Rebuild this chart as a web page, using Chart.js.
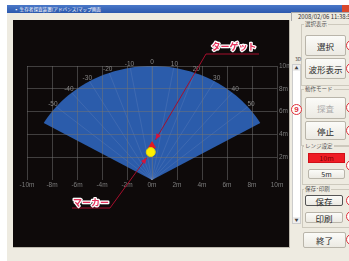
<!DOCTYPE html>
<html><head><meta charset="utf-8">
<script src="https://cdn.jsdelivr.net/npm/chart.js@4/dist/chart.umd.min.js"></script>
<style>
html,body{margin:0;padding:0;background:#fff;width:349px;height:261px;overflow:hidden;font-family:"Noto Sans CJK JP","Noto Sans",sans-serif;}
.abs{position:absolute;}
#win{left:7px;top:5px;width:350px;height:260px;background:#EEEBE1;}
#title{left:7px;top:5px;width:342px;height:8px;background:linear-gradient(#4a78c8,#2c58ad);}
#ttext{left:14px;top:5px;height:8px;line-height:8px;font-size:4.6px;color:#fff;white-space:nowrap;}
#close{left:342px;top:5px;width:8px;height:8px;background:#d9482c;}
#panel{left:13px;top:20px;width:276px;height:227px;background:#0E0A0A;border-right:1px solid #bdb9ae;border-bottom:1px solid #bdb9ae;}
#date{left:291px;top:12px;width:60px;height:8px;border-left:1px solid #aaa;border-top:1px solid #aaa;font-size:6px;line-height:8px;color:#333;padding-left:6px;white-space:nowrap;}
.grp{position:absolute;border:1px solid #cdc9bd;border-right:none;}
.glab{position:absolute;font-size:5.5px;line-height:6px;color:#555;background:#EEEBE1;padding:0 1px;white-space:nowrap;}
.btn{position:absolute;box-sizing:border-box;border:1px solid #b9b5aa;border-radius:2px;background:linear-gradient(#fbfbf8,#eceae3);color:#2a2a2a;font-size:8.5px;display:flex;align-items:center;justify-content:center;white-space:nowrap;}
.rc{position:absolute;width:11px;height:11px;border:1.3px solid #e0303a;border-radius:50%;background:#fff;box-sizing:border-box;}
#scroll{left:292px;top:64px;width:9px;height:160px;background:#fff;border:1px solid #ccc;box-sizing:border-box;}
</style></head>
<body>
<div id="win" class="abs"></div>
<div id="title" class="abs"></div>
<div id="ttext" class="abs">▪ 生存者探査装置(アドバンス)マップ画面</div>
<div id="close" class="abs"></div>
<div id="date" class="abs">2008/02/06 11:38:5</div>
<div id="panel" class="abs"><canvas id="c" width="276" height="227"></canvas></div>

<div class="grp" style="left:301px;top:24px;width:60px;height:60px;"></div>
<div class="glab" style="left:304px;top:21px;">選択表示</div>
<div class="grp" style="left:301px;top:89px;width:60px;height:55px;"></div>
<div class="glab" style="left:304px;top:86px;">動作モード</div>
<div class="grp" style="left:302px;top:146px;width:60px;height:37px;"></div>
<div class="glab" style="left:304px;top:143px;">レンジ設定</div>
<div class="grp" style="left:302px;top:189px;width:60px;height:37px;"></div>
<div class="glab" style="left:304px;top:186px;">保存･印刷</div>

<div class="abs" style="left:295px;top:55px;font-size:5px;color:#444;">3D</div>
<div id="scroll" class="abs"></div>
<div class="abs" style="left:293px;top:65px;width:7px;height:6px;background:#eee;font-size:4px;line-height:6px;text-align:center;color:#444;">▲</div>
<div class="abs" style="left:293px;top:217px;width:7px;height:6px;background:#eee;font-size:4px;line-height:6px;text-align:center;color:#444;">▼</div>

<div class="btn" style="left:305px;top:35px;width:41px;height:21px;">選択</div>
<div class="btn" style="left:305px;top:58px;width:41px;height:21px;">波形表示</div>
<div class="btn" style="left:305px;top:97px;width:41px;height:22px;color:#aaa;">探査</div>
<div class="btn" style="left:305px;top:121px;width:41px;height:19px;">停止</div>
<div class="btn" style="left:308px;top:153px;width:37px;height:10px;background:#EE1C24;border-color:#d01018;color:#7a0000;font-size:7px;border-radius:0;">10m</div>
<div class="btn" style="left:308px;top:169px;width:37px;height:10px;font-size:7px;">5m</div>
<div class="btn" style="left:305px;top:195px;width:38px;height:11px;border:1.5px solid #555;">保存</div>
<div class="btn" style="left:305px;top:212px;width:38px;height:11px;">印刷</div>
<div class="btn" style="left:303px;top:232px;width:43px;height:16px;">終了</div>

<div class="rc" style="left:291px;top:104px;"></div>
<div class="abs" style="left:291px;top:104px;width:11px;height:11px;font-size:8px;line-height:11px;text-align:center;color:#e0303a;font-weight:bold;font-family:'Liberation Sans',sans-serif;">9</div>
<div class="rc" style="left:346px;top:40px;"></div>
<div class="rc" style="left:346px;top:63px;"></div>
<div class="rc" style="left:346px;top:102px;"></div>
<div class="rc" style="left:346px;top:125px;"></div>
<div class="rc" style="left:346px;top:160px;"></div>
<div class="rc" style="left:346px;top:195px;"></div>
<div class="rc" style="left:346px;top:211px;"></div>
<div class="rc" style="left:346px;top:234px;"></div>

<script>
// ---- data ----
const xTickLabels = ['-10m','-8m','-6m','-4m','-2m','0m','2m','4m','6m','8m','10m'];
const yTickLabels = ['', '2m', '4m', '6m', '8m', '10m'];
const sectorRange = 10;          // metres
const sectorAngles = [-60, 60];  // degrees from straight ahead
const angleValues = [-50, -40, -30, -20, -10, 0, 10, 20, 30, 40, 50];
const angleLabels = ['-50','-40','-30','-20','-10','0','10','20','30','40','50'];
const targetX = [0.0];
const targetY = [3.0];
const markerX = [-0.1];
const markerY = [2.45];
const annotationTexts = ['ターゲット', 'マーカー'];

function polar(scales, r, deg) {
  const a = deg * Math.PI / 180;
  return [scales.x.getPixelForValue(r * Math.sin(a)), scales.y.getPixelForValue(r * Math.cos(a))];
}

const fanPlugin = {
  id: 'fan',
  beforeDraw(chart) {
    const ctx = chart.ctx, s = chart.scales;
    const apex = polar(s, 0, 0);
    ctx.save();
    ctx.beginPath();
    ctx.moveTo(apex[0], apex[1]);
    for (let d = sectorAngles[0]; d <= sectorAngles[1]; d += 2) {
      const p = polar(s, sectorRange, d);
      ctx.lineTo(p[0], p[1]);
    }
    ctx.closePath();
    ctx.fillStyle = '#2B5CAB';
    ctx.fill();
    ctx.strokeStyle = 'rgba(175,185,215,0.14)';
    ctx.lineWidth = 1;
    angleValues.forEach(d => {
      const p = polar(s, sectorRange, d);
      ctx.beginPath(); ctx.moveTo(apex[0], apex[1]); ctx.lineTo(p[0], p[1]); ctx.stroke();
    });
    ctx.restore();
  },
  afterDraw(chart) {
    const ctx = chart.ctx, s = chart.scales;
    ctx.save();
    // angle labels along arc
    ctx.font = '6.5px "Liberation Sans", sans-serif';
    ctx.fillStyle = '#858585';
    ctx.textAlign = 'center'; ctx.textBaseline = 'middle';
    angleValues.forEach((d, i) => {
      const p = polar(s, sectorRange + 0.35, d);
      ctx.fillText(angleLabels[i], p[0], p[1]);
    });
    // annotations
    const red = '#A50F2D';
    function callout(text, tx, ty, ulx1, ulx2, uly, anchorX, px, py) {
      ctx.strokeStyle = red; ctx.lineWidth = 1;
      ctx.beginPath(); ctx.moveTo(ulx1, uly); ctx.lineTo(ulx2, uly); ctx.stroke();
      const dx = px - anchorX, dy = py - uly, L = Math.hypot(dx, dy);
      const ux = dx / L, uy = dy / L;
      const tipX = px - ux * 7, tipY = py - uy * 7;
      ctx.beginPath(); ctx.moveTo(anchorX, uly); ctx.lineTo(tipX, tipY); ctx.stroke();
      ctx.fillStyle = '#D4143C';
      ctx.beginPath();
      ctx.moveTo(tipX, tipY);
      ctx.lineTo(tipX - ux * 6 - uy * 2.5, tipY - uy * 6 + ux * 2.5);
      ctx.lineTo(tipX - ux * 6 + uy * 2.5, tipY - uy * 6 - ux * 2.5);
      ctx.closePath(); ctx.fill();
      ctx.font = 'bold 9px "Noto Sans CJK JP", sans-serif';
      ctx.textAlign = 'center'; ctx.textBaseline = 'middle';
      ctx.lineWidth = 2.5; ctx.strokeStyle = '#ffffff'; ctx.lineJoin = 'round';
      ctx.strokeText(text, tx, ty);
      ctx.fillStyle = '#E4335C';
      ctx.fillText(text, tx, ty);
    }
    const tp = [s.x.getPixelForValue(targetX[0]), s.y.getPixelForValue(targetY[0])];
    const mp = [s.x.getPixelForValue(markerX[0]), s.y.getPixelForValue(markerY[0])];
    callout(annotationTexts[0], 221, 27, 193, 246, 34, 193, tp[0], tp[1]);
    callout(annotationTexts[1], 78, 183, 59, 97, 188, 97, mp[0], mp[1]);
    ctx.restore();
  }
};

const gridColor = 'rgba(115,115,115,0.5)';
new Chart(document.getElementById('c'), {
  type: 'scatter',
  data: {
    datasets: [
      { label: 'marker', data: markerX.map((x, i) => ({x, y: markerY[i]})),
        pointStyle: 'circle', pointRadius: 4.5, backgroundColor: '#FFF000', borderColor: '#E8D800', borderWidth: 1 },
      { label: 'target', data: targetX.map((x, i) => ({x, y: targetY[i]})),
        pointStyle: 'triangle', pointRadius: 4, backgroundColor: '#E21A22', borderColor: '#E21A22', borderWidth: 1 }
    ]
  },
  options: {
    responsive: false, animation: false, devicePixelRatio: 1,
    layout: { padding: { left: 14, top: 46, right: 0, bottom: 55 } },
    plugins: { legend: { display: false }, tooltip: { enabled: false } },
    scales: {
      x: {
        type: 'linear', min: -10, max: 10, position: 'bottom',
        afterFit: sc => { sc.height = 12; },
        border: { display: false },
        grid: { color: gridColor, drawTicks: false, lineWidth: 1 },
        ticks: { stepSize: 2, padding: 1, color: '#7c7c7c', font: { size: 6.5, family: 'Liberation Sans' },
          maxRotation: 0, autoSkip: false,
          callback: v => xTickLabels[Math.round((v + 10) / 2)] }
      },
      y: {
        type: 'linear', min: 0, max: 10, position: 'right',
        afterFit: sc => { sc.width = 12; },
        border: { display: false },
        grid: { color: c => c.tick && c.tick.value === 0 ? 'rgba(0,0,0,0)' : gridColor, drawTicks: false, lineWidth: 1 },
        ticks: { stepSize: 2, padding: 2, color: '#7c7c7c', font: { size: 6.5, family: 'Liberation Sans' },
          callback: v => yTickLabels[Math.round(v / 2)] }
      }
    }
  },
  plugins: [fanPlugin]
});
</script>
</body></html>
